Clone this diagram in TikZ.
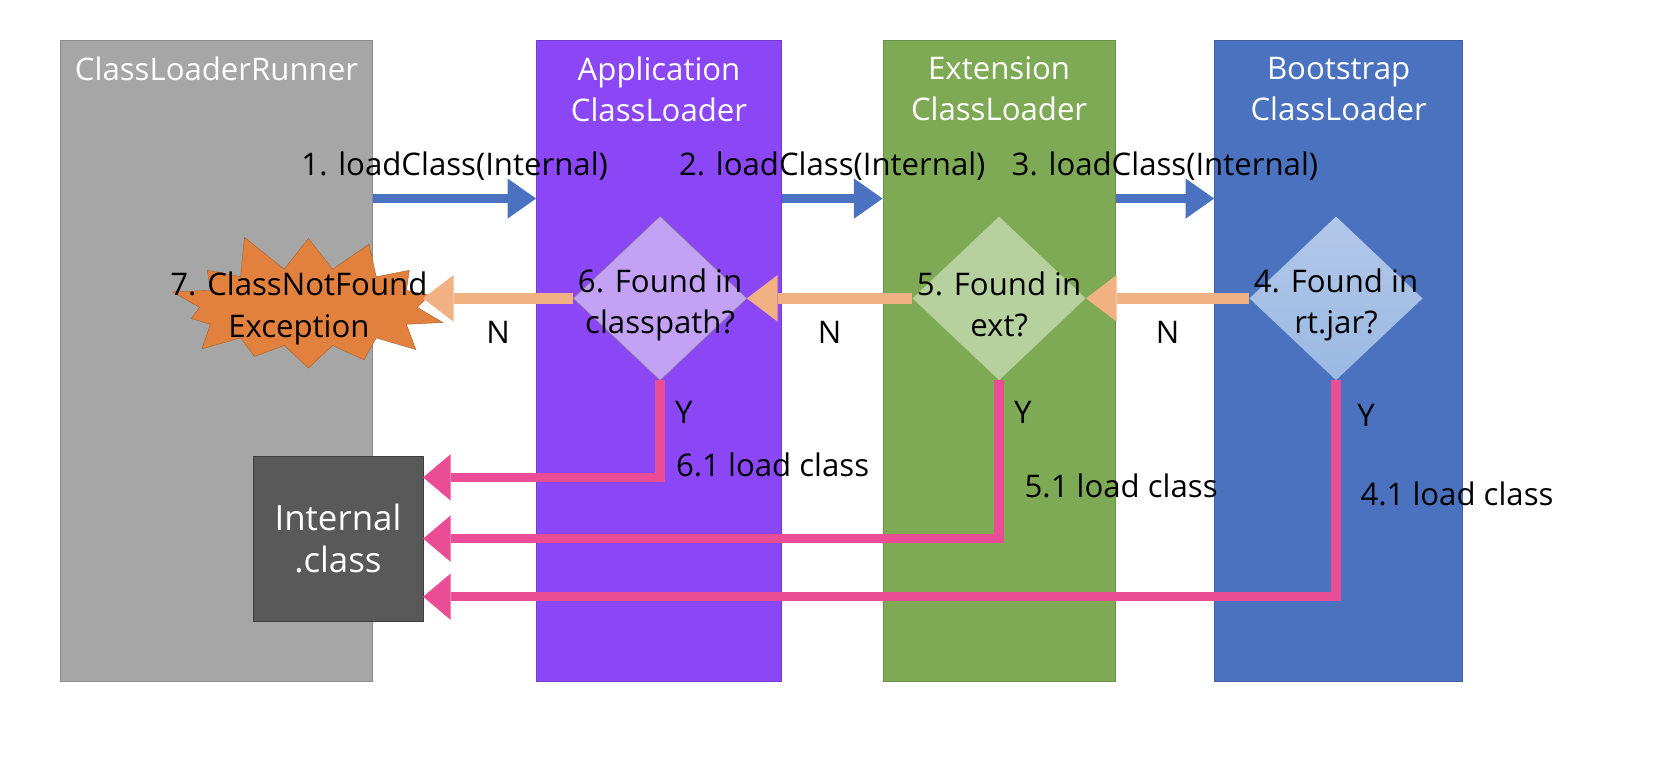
\documentclass[tikz,border=0pt]{standalone}
\usepackage{fontspec}
\setmainfont{Open Sans}
\usetikzlibrary{arrows.meta,shapes.geometric,shapes.symbols}
\definecolor{runnerGray}{HTML}{A6A6A6}
\definecolor{appPurple}{HTML}{8B47F6}
\definecolor{extGreen}{HTML}{7EAA55}
\definecolor{bootBlue}{HTML}{4A72BE}
\definecolor{appDia}{HTML}{C3A2F6}
\definecolor{appDiaLine}{HTML}{8E9E78}
\definecolor{extDia}{HTML}{B6D19E}
\definecolor{bootDiaTop}{HTML}{B2C8E9}
\definecolor{bootDiaBot}{HTML}{9BB9E3}
\definecolor{callBlue}{HTML}{4A72C0}
\definecolor{missOrange}{HTML}{F1B183}
\definecolor{foundPink}{HTML}{EA4C95}
\definecolor{burstOrange}{HTML}{E2813E}
\definecolor{classGray}{HTML}{595959}
\tikzset{lbl/.style={font=\fontsize{29.5}{39}\selectfont, text=black, align=center, inner sep=0pt}}
\tikzset{head/.style={lbl, text=white, anchor=north, yshift=-16pt}}
\tikzset{col/.style={rectangle, draw=#1!85!black, fill=#1, line width=0.8pt, minimum height=607pt, inner sep=0pt}}
\tikzset{dia/.style={diamond, minimum width=164pt, minimum height=155pt, inner sep=0pt}}

\begin{document}
\begin{tikzpicture}[x=1pt,y=-1pt,
  call/.style={callBlue, line width=9pt, -{Triangle[length=27pt,width=38pt,line width=0pt]}},
  miss/.style={missOrange, line width=10pt, -{Triangle[length=29pt,width=44pt,line width=0pt]}},
  found/.style={foundPink, line width=9pt, -{Triangle[length=26pt,width=44pt,line width=0pt]}}]
\useasboundingbox (0,0) rectangle (1568,716);
\node[col=runnerGray, minimum width=296pt] (runner) at (205,341.5) {};
\node[col=appPurple, minimum width=232pt] (app) at (624,341.5) {};
\node[col=extGreen, minimum width=220pt] (ext) at (946,341.5) {};
\node[col=bootBlue, minimum width=235pt] (boot) at (1267.5,341.5) {};
\node[head] at (runner.north) {ClassLoaderRunner};
\node[head] at (app.north) {Application\\ClassLoader};
\node[head] at (ext.north) {Extension\\ClassLoader};
\node[head] at (boot.north) {Bootstrap\\ClassLoader};

\node[fill=classGray, draw=classGray!70!black, minimum width=161pt, minimum height=156pt,
  text=white, align=center, font=\fontsize{33}{40}\selectfont] (cls) at (320,510) {Internal\\.class};

\node[starburst, starburst points=14, starburst point height=38pt, random starburst=11,
  fill=burstOrange, draw=burstOrange!75!black, minimum width=282pt, minimum height=150pt] (exc) at (292,291) {};
\node[lbl] at (283,292) {7. ClassNotFound\\Exception};

\node[dia, fill=appDia, draw=appDiaLine] (d6) at (625,282.5) {};
\node[dia, fill=extDia] (d5) at (946,282.5) {};
\node[dia, top color=bootDiaTop, bottom color=bootDiaBot] (d4) at (1265,282.5) {};
\node[lbl] at ([yshift=-6pt]d6) {6. Found in\\classpath?};
\node[lbl] at ([yshift=-6pt]d5) {5. Found in\\ext?};
\node[lbl] at ([yshift=-6pt]d4) {4. Found in\\rt.jar?};

\coordinate (callY) at (0,188);
\draw[call] (runner.east |- callY) -- node[lbl, midway, yshift=31pt] {1. loadClass(Internal)} (app.west |- callY);
\draw[call] (app.east |- callY) -- node[lbl, midway, yshift=31pt] {2. loadClass(Internal)} (ext.west |- callY);
\draw[call] (ext.east |- callY) -- node[lbl, midway, yshift=31pt] {3. loadClass(Internal)} (boot.west |- callY);

\draw[miss] (d4.west) -- node[lbl, midway, yshift=-32pt] {N} (d5.east);
\draw[miss] (d5.west) -- node[lbl, midway, yshift=-32pt] {N} (d6.east);
\draw[miss] (d6.west) -- node[lbl, midway, yshift=-32pt] {N} ([xshift=5pt]exc.east |- d6.west);

\draw[found] (d6.south) |- ([yshift=58pt]cls.east);
\draw[found] (d5.south) |- (cls.east);
\draw[found] (d4.south) |- ([yshift=-55pt]cls.east);
\node[lbl, anchor=west] at ([xshift=14pt,yshift=-30pt]d6.south) {Y};
\node[lbl, anchor=west] at ([xshift=14pt,yshift=-30pt]d5.south) {Y};
\node[lbl, anchor=west] at ([xshift=20pt,yshift=-33pt]d4.south) {Y};
\node[lbl, anchor=west] at (640,440) {6.1 load class};
\node[lbl, anchor=west] at (970,460) {5.1 load class};
\node[lbl, anchor=west] at (1288,468) {4.1 load class};
\end{tikzpicture}
\end{document}
